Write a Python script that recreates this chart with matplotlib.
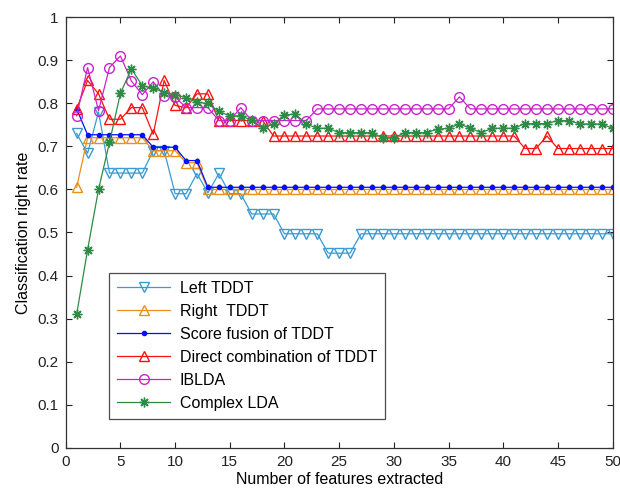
import matplotlib
matplotlib.use("Agg")
import matplotlib.pyplot as plt
import numpy as np

plt.rcParams['font.family'] = ['Liberation Sans', 'DejaVu Sans']

features = list(range(1, 51))

left_tddt = [0.73, 0.684, 0.78, 0.638, 0.638, 0.638, 0.638, 0.69, 0.69, 0.59,
             0.59, 0.637, 0.592, 0.637, 0.59, 0.59, 0.543, 0.543, 0.543, 0.497,
             0.497, 0.497, 0.497, 0.452, 0.452, 0.452, 0.497, 0.497, 0.497, 0.497,
             0.497, 0.497, 0.497, 0.497, 0.497, 0.497, 0.497, 0.497, 0.497, 0.497,
             0.497, 0.497, 0.497, 0.497, 0.497, 0.497, 0.497, 0.497, 0.497, 0.497]

right_tddt = [0.605, 0.72, 0.72, 0.72, 0.72, 0.72, 0.72, 0.69, 0.69, 0.69,
              0.662, 0.662, 0.60, 0.60, 0.60, 0.60, 0.60, 0.60, 0.60, 0.60,
              0.60, 0.60, 0.60, 0.60, 0.60, 0.60, 0.60, 0.60, 0.60, 0.60,
              0.60, 0.60, 0.60, 0.60, 0.60, 0.60, 0.60, 0.60, 0.60, 0.60,
              0.60, 0.60, 0.60, 0.60, 0.60, 0.60, 0.60, 0.60, 0.60, 0.60]

score_fusion = [0.787, 0.727, 0.727, 0.727, 0.727, 0.727, 0.727, 0.698, 0.698, 0.698,
                0.667, 0.667, 0.605, 0.605, 0.605, 0.605, 0.605, 0.605, 0.605, 0.605,
                0.605, 0.605, 0.605, 0.605, 0.605, 0.605, 0.605, 0.605, 0.605, 0.605,
                0.605, 0.605, 0.605, 0.605, 0.605, 0.605, 0.605, 0.605, 0.605, 0.605,
                0.605, 0.605, 0.605, 0.605, 0.605, 0.605, 0.605, 0.605, 0.605, 0.605]

direct_comb = [0.787, 0.853, 0.822, 0.763, 0.763, 0.79, 0.79, 0.728, 0.853, 0.795,
               0.79, 0.822, 0.822, 0.76, 0.76, 0.76, 0.76, 0.76, 0.724, 0.724,
               0.724, 0.724, 0.724, 0.724, 0.724, 0.724, 0.724, 0.724, 0.724, 0.724,
               0.724, 0.724, 0.724, 0.724, 0.724, 0.724, 0.724, 0.724, 0.724, 0.724,
               0.724, 0.695, 0.695, 0.724, 0.695, 0.695, 0.695, 0.695, 0.695, 0.695]

iblda = [0.771, 0.883, 0.783, 0.883, 0.91, 0.852, 0.82, 0.85, 0.818, 0.815,
         0.79, 0.79, 0.79, 0.76, 0.76, 0.79, 0.76, 0.76, 0.76, 0.76,
         0.76, 0.76, 0.787, 0.787, 0.787, 0.787, 0.787, 0.787, 0.787, 0.787,
         0.787, 0.787, 0.787, 0.787, 0.787, 0.815, 0.787, 0.787, 0.787, 0.787,
         0.787, 0.787, 0.787, 0.787, 0.787, 0.787, 0.787, 0.787, 0.787, 0.787]

complex_lda = [0.31, 0.46, 0.6, 0.709, 0.823, 0.88, 0.841, 0.835, 0.825, 0.82,
               0.813, 0.802, 0.80, 0.781, 0.771, 0.771, 0.761, 0.742, 0.752, 0.773,
               0.775, 0.752, 0.742, 0.742, 0.732, 0.732, 0.732, 0.732, 0.72, 0.72,
               0.732, 0.732, 0.732, 0.74, 0.742, 0.752, 0.742, 0.732, 0.742, 0.742,
               0.742, 0.753, 0.753, 0.753, 0.76, 0.76, 0.752, 0.752, 0.752, 0.742]

labels = ["Left TDDT", "Right  TDDT", "Score fusion of TDDT",
          "Direct combination of TDDT", "IBLDA", "Complex LDA"]
x_ticks = [0, 5, 10, 15, 20, 25, 30, 35, 40, 45, 50]
y_ticks = [0, 0.1, 0.2, 0.3, 0.4, 0.5, 0.6, 0.7, 0.8, 0.9, 1]
y_ticklabels = ["0", "0.1", "0.2", "0.3", "0.4", "0.5", "0.6", "0.7", "0.8", "0.9", "1"]

fig = plt.figure(figsize=(6.2, 4.91), dpi=100)
ax = fig.add_axes([0.106, 0.088, 0.882, 0.877])

lw = 0.9
ms = 7
ax.plot(features, left_tddt, color='#3a9ad2', lw=lw, marker='v', ms=ms,
        mfc='none', mec='#3a9ad2', mew=1.0, label=labels[0])
ax.plot(features, right_tddt, color='#e8901e', lw=lw, marker='^', ms=ms,
        mfc='none', mec='#e8901e', mew=1.0, label=labels[1])
ax.plot(features, score_fusion, color='#0010ff', lw=lw, marker='.', ms=6,
        mfc='#0010ff', mec='#0010ff', label=labels[2])
ax.plot(features, direct_comb, color='#ff1010', lw=lw, marker='^', ms=ms,
        mfc='none', mec='#ff1010', mew=1.0, label=labels[3])
ax.plot(features, iblda, color='#cc22cc', lw=lw, marker='o', ms=ms,
        mfc='none', mec='#cc22cc', mew=1.0, label=labels[4])
ax.plot(features, complex_lda, color='#2e8b45', lw=lw, marker=(8, 2, 0), ms=7,
        mfc='#2e8b45', mec='#2e8b45', mew=1.0, label=labels[5])

ax.set_xlim(0, 50)
ax.set_ylim(0, 1)
ax.set_xticks(x_ticks)
ax.set_yticks(y_ticks)
ax.set_yticklabels(y_ticklabels)
ax.tick_params(direction='in', top=True, right=True, length=4, labelsize=11,
               colors='#222222', width=0.8, pad=5)
for s in ax.spines.values():
    s.set_linewidth(0.9)
    s.set_color('#333333')

ax.set_xlabel("Number of features extracted", fontsize=11.5, labelpad=2)
ax.set_ylabel("Classification right rate", fontsize=11.5, labelpad=5)

leg = ax.legend(loc='lower left', bbox_to_anchor=(0.08, 0.067), fontsize=11.5,
                frameon=True, fancybox=False, edgecolor='#222222',
                handlelength=3.3, labelspacing=0.5, borderpad=0.5,
                handletextpad=0.6, borderaxespad=0)
leg.get_frame().set_linewidth(0.9)

fig.savefig("out.png", dpi=100)
